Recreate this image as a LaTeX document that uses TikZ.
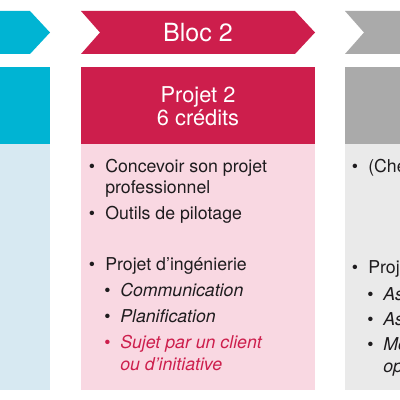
\documentclass[tikz,border=0pt]{standalone}
\usepackage{fontspec}
\setmainfont{TeX Gyre Heros}
\definecolor{bordeaux}{RGB}{205,30,76}
\definecolor{rose}{RGB}{249,216,226}
\definecolor{turquoise}{RGB}{0,180,211}
\definecolor{bleuclair}{RGB}{215,233,242}
\definecolor{gris}{RGB}{170,170,170}
\definecolor{grisclair}{RGB}{234,234,234}
\definecolor{encre}{RGB}{30,28,30}
\tikzset{%
		chevron/.style={fill=#1},
		entete/.style={font=\fontsize{15.5}{16.4}\selectfont,text=white,align=center},
		titre/.style={font=\fontsize{17.8}{20}\selectfont,text=white},
		ligne/.style={anchor=base west,inner sep=0pt,font=\fontsize{12.6}{14.2}\selectfont,text=encre},
		souligne/.style={ligne,font=\fontsize{12.6}{14.2}\selectfont\itshape}
	}
% bloc: x gauche, x droite, couleur fonce, couleur claire
\newcommand{\bloc}[4]{
		\fill[chevron=#3] (#1,11) -- (#2-20,11) -- (#2,32.5) -- (#2-20,54) -- (#1,54) -- (#1+19,32.5) -- cycle ;
		\fill[#3] (#1,67) rectangle (#2,144) ;
		\fill[#4] (#1,144) rectangle (#2,390) ;
	}
% puce: nom, x, y (ligne de base), texte
\newcommand{\puce}[4]{
		\node[ligne] (#1) at (#2,#3) {#4} ;
		\node[ligne,anchor=base] (#1-p) at (#2-13,#3) {\textbullet} ;
	}
\newcommand{\souspuce}[5][encre]{
		\node[souligne,text=#1] (#2) at (#3,#4) {#5} ;
		\node[ligne,anchor=base,text=#1] (#2-p) at (#3-12.5,#4) {\textbullet} ;
	}

\begin{document}
\begin{tikzpicture}[x=0.025cm,y=-0.025cm]
      \useasboundingbox (0,0) rectangle (400,400) ;
      \fill[white] (0,0) rectangle (400,400) ;
      \clip (0,0) rectangle (400,400) ;

      % Bloc 1
      \bloc{-240}{50}{turquoise}{bleuclair}

      % Bloc 2
      \bloc{81}{315}{bordeaux}{rose}
      \node[titre] (bloc2) at (198,33) {Bloc 2} ;
      \node[entete] (projet2) at (198,106) {Projet 2\\6 crédits} ;
      \puce{concevoir}{105}{173}{Concevoir son projet}
      \node[ligne] (professionnel) at (105,193) {professionnel} ;
      \puce{outils}{105}{219}{Outils de pilotage}
      \puce{ingenierie}{105}{270}{Projet d’ingénierie}
      \souspuce{communication}{120}{296.5}{Communication}
      \souspuce{planification}{120}{322}{Planification}
      \souspuce[bordeaux]{sujet}{120}{348}{Sujet par un client}
      \node[souligne,text=bordeaux] (initiative) at (120,370) {ou d’initiative} ;

      % Bloc 3
      \bloc{345}{640}{gris}{grisclair}
      \puce{choix}{368}{173}{(Che}
      \puce{projet3}{368}{273}{Proje}
      \souspuce{as1}{383}{300}{Ass}
      \souspuce{as2}{383}{325}{Ass}
      \souspuce{mo}{383}{350}{Mo}
      \node[souligne] (op) at (383,372) {op} ;
\end{tikzpicture}
\end{document}
